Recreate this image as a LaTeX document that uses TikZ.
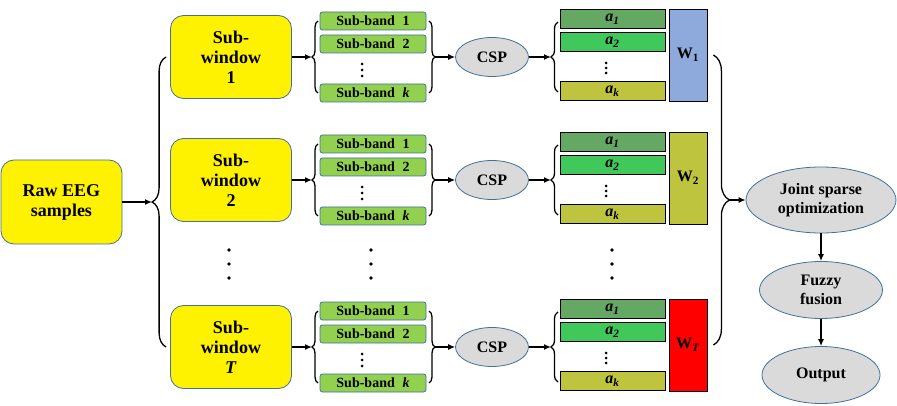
\documentclass[tikz,border=0pt]{standalone}
\usepackage{fontspec}
\setmainfont{Liberation Serif}
\usetikzlibrary{arrows.meta,decorations.pathreplacing,shapes.geometric}
\definecolor{edgeblue}{HTML}{41719C}
\definecolor{bandgreen}{HTML}{92D050}
\definecolor{ovalgray}{HTML}{DADADA}
\definecolor{aone}{HTML}{64A863}
\definecolor{atwo}{HTML}{40C85A}
\definecolor{akcol}{HTML}{BEC43E}
\definecolor{wblue}{HTML}{8EA9DB}
\definecolor{wolive}{HTML}{BEC43E}
\definecolor{wred}{HTML}{FF0000}

\begin{document}
\begin{tikzpicture}
  [
  x=1pt, y=-1pt, line width=1.3pt,
  >={Latex[length=7pt,width=6pt]},
  winblock/.style={rectangle, rounded corners=13pt, draw=edgeblue, line width=0.8pt, fill=yellow, minimum width=121pt, minimum height=83pt, align=center, font=\fontsize{18}{20}\selectfont\bfseries},
  bandblock/.style={rectangle, rounded corners=2.5pt, draw=edgeblue, line width=0.8pt, fill=bandgreen, minimum width=106pt, minimum height=18pt, inner sep=0pt, font=\fontsize{14}{14}\selectfont\bfseries},
  featblock/.style={rectangle, draw=black, line width=0.8pt, minimum width=105pt, minimum height=19pt, inner sep=0pt, font=\fontsize{16}{16}\selectfont\bfseries\itshape},
  wblock/.style={rectangle, draw=black, line width=0.8pt, minimum width=38pt, minimum height=92pt, inner sep=0pt, font=\fontsize{16}{16}\selectfont\bfseries},
  ovalblock/.style={ellipse, draw=edgeblue, line width=0.8pt, fill=ovalgray, inner sep=0pt, align=center, font=\fontsize{16}{19}\selectfont\bfseries},
  bracel/.style={decorate, decoration={brace, amplitude=#1}}
  ]

\useasboundingbox (0,0) rectangle (897,406);

\foreach \r/\cy/\lab/\wcol/\wlab in {1/57/1/wblue/1, 2/180/2/wolive/2, 3/347/{\textit{T}}/wred/{\textit{T}}} {
  \node[winblock] (win\r) at (231,\cy) {Sub-\\window\\\lab};
  \node[bandblock] (sb\r a) at (373,\cy-36) {Sub-band\hspace{0.55em}1};
  \node[bandblock] (sb\r b) at (373,\cy-13) {Sub-band\hspace{0.55em}2};
  \node[bandblock] (sb\r k) at (373,\cy+36) {Sub-band\hspace{0.55em}\textit{k}};
  \foreach \d in {7,13,19} {
    \fill (362,\cy+\d) circle (1.5pt);
  }
  \coordinate (sbin\r) at (312,\cy);
  \coordinate (sbout\r) at (435,\cy);
  \draw[bracel=6pt] (318,\cy+36) -- (318,\cy-36);
  \draw[bracel=6pt] (429,\cy-36) -- (429,\cy+36);
  \draw[->] (win\r) -- (sbin\r);
  \node[ovalblock, minimum width=73pt, minimum height=39pt] (csp\r) at (492,\cy) {CSP};
  \draw[->] (sbout\r) -- (csp\r);

  \node[featblock, fill=aone] (fa\r) at (612.5,\cy-38) {a\textsubscript{1}};
  \node[featblock, fill=atwo] (fb\r) at (612.5,\cy-15) {a\textsubscript{2}};
  \node[featblock, fill=akcol] (fk\r) at (612.5,\cy+34) {a\textsubscript{k}};
  \foreach \d in {6,11,16} {
    \fill (606,\cy+\d) circle (1.5pt);
  }
  \coordinate (fin\r) at (551,\cy);
  \draw[bracel=7pt] (558,\cy+35) -- (558,\cy-35);
  \draw[->] (csp\r) -- (fin\r);
  \node[wblock, fill=\wcol] (w\r) at (688,\cy-2) {W\textsubscript{\wlab}};
}

\node[winblock, minimum height=84pt] (raw) at (61.5,202) {Raw EEG\\samples};
\coordinate (wintip) at (152,202);
\draw[bracel=14pt] ([xshift=-4pt]win3.west) -- ([xshift=-4pt]win1.west);
\draw[->] (raw) -- (wintip);

\foreach \x in {229,371,612} {
  \foreach \y in {250,264,278} {
    \fill (\x,\y) circle (1.8pt);
  }
}

\node[ovalblock, minimum width=150pt, minimum height=66pt] (joint) at (821,200) {Joint sparse\\optimization};
\node[ovalblock, minimum width=123pt, minimum height=57pt] (fuzzy) at (821,290) {Fuzzy\\fusion};
\node[ovalblock, minimum width=118pt, minimum height=57pt] (output) at (821,375) {Output};

\coordinate (wtip) at (729,200);
\draw[bracel=16pt] ([xshift=6pt]w1.east) -- ([xshift=6pt]w3.east);
\draw[->] (wtip) -- (joint);
\draw[->] (joint) -- (fuzzy);
\draw[->] (fuzzy) -- (output);

\end{tikzpicture}
\end{document}
